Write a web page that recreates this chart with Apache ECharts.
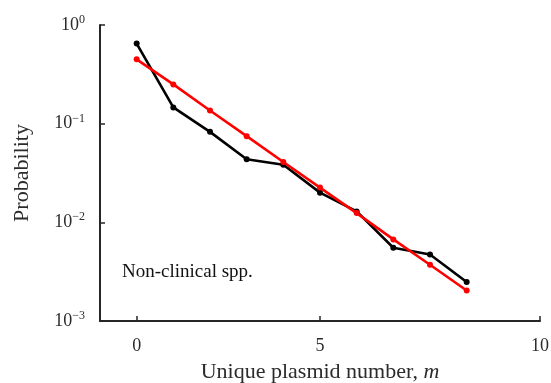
<!DOCTYPE html>
<html>
<head>
<meta charset="utf-8">
<script src="https://cdn.jsdelivr.net/npm/echarts@6/dist/echarts.min.js"></script>
<style>
  html, body { margin: 0; padding: 0; background: #fff; }
  #chart { width: 551px; height: 383px; }
</style>
</head>
<body>
<div id="chart"></div>
<script>
// unique plasmid number m
var plasmidNumbers = [0, 1, 2, 3, 4, 5, 6, 7, 8, 9];
// observed probability (black)
var observed = [0.649, 0.146, 0.0826, 0.0436, 0.0384, 0.0200, 0.0129, 0.00553, 0.00473, 0.00248];
// fitted probability (red)
var fitted = [0.449, 0.250, 0.136, 0.0747, 0.0409, 0.0225, 0.0124, 0.00671, 0.00372, 0.00204];
// x tick positions and their labels
var xTickValues = [0, 5, 11];
var xTickLabels = ['0', '5', '10'];

function pairs(ys) {
    return plasmidNumbers.map(function (m, i) { return [m, ys[i]]; });
}

var axisColor = '#262626';
var textColor = '#2b2b2b';
var serif = 'Liberation Serif';

var option = {
    animation: false,
    grid: { left: 100, right: 11, top: 25, bottom: 62, outerBoundsMode: 'none', containLabel: false },
    xAxis: {
        type: 'value',
        min: -1,
        max: 11,
        name: '{t|Unique plasmid number, }{i|m}',
        nameLocation: 'middle',
        nameGap: 40,
        nameTextStyle: {
            rich: {
                t: { fontFamily: serif, fontSize: 22, color: textColor },
                i: { fontFamily: serif, fontSize: 22, color: textColor, fontStyle: 'italic' }
            }
        },
        splitLine: { show: false },
        axisLine: { onZero: false, lineStyle: { color: axisColor, width: 2 } },
        axisTick: { inside: true, length: 5, customValues: xTickValues, lineStyle: { color: axisColor, width: 1.5 } },
        axisLabel: {
            customValues: xTickValues,
            margin: 16,
            fontFamily: serif,
            fontSize: 18,
            color: textColor,
            formatter: function (v) { return xTickLabels[xTickValues.indexOf(v)]; }
        }
    },
    yAxis: {
        type: 'log',
        logBase: 10,
        min: 0.001,
        max: 1,
        name: 'Probability',
        nameLocation: 'middle',
        nameGap: 67,
        nameTextStyle: { fontFamily: serif, fontSize: 22, color: textColor },
        splitLine: { show: false },
        minorTick: { show: false },
        axisLine: { onZero: false, lineStyle: { color: axisColor, width: 2 } },
        axisTick: { inside: true, length: 5, lineStyle: { color: axisColor, width: 1.5 } },
        axisLabel: {
            margin: 15,
            color: textColor,
            formatter: function (v) {
                var e = Math.round(Math.log10(v));
                var s = e < 0 ? '\u2212' + (-e) : String(e);
                return '{b|10}{s|' + s + '}';
            },
            rich: {
                b: { fontFamily: serif, fontSize: 18, color: textColor },
                s: { fontFamily: serif, fontSize: 12, color: textColor, padding: [0, 0, 10, 0] }
            }
        }
    },
    graphic: [{
        type: 'text',
        left: 122,
        top: 263,
        style: { text: 'Non-clinical spp.', fontFamily: serif, fontSize: 19, fill: '#111' }
    }],
    series: [
        {
            name: 'observed',
            type: 'line',
            data: pairs(observed),
            symbol: 'circle',
            symbolSize: 6,
            lineStyle: { color: '#000', width: 2.6 },
            itemStyle: { color: '#000' },
            z: 2
        },
        {
            name: 'fitted',
            type: 'line',
            data: pairs(fitted),
            symbol: 'circle',
            symbolSize: 6,
            lineStyle: { color: '#ff0000', width: 2.6 },
            itemStyle: { color: '#ff0000' },
            z: 3
        }
    ]
};

var myChart = echarts.init(document.getElementById('chart'));
myChart.setOption(option);
</script>
</body>
</html>
